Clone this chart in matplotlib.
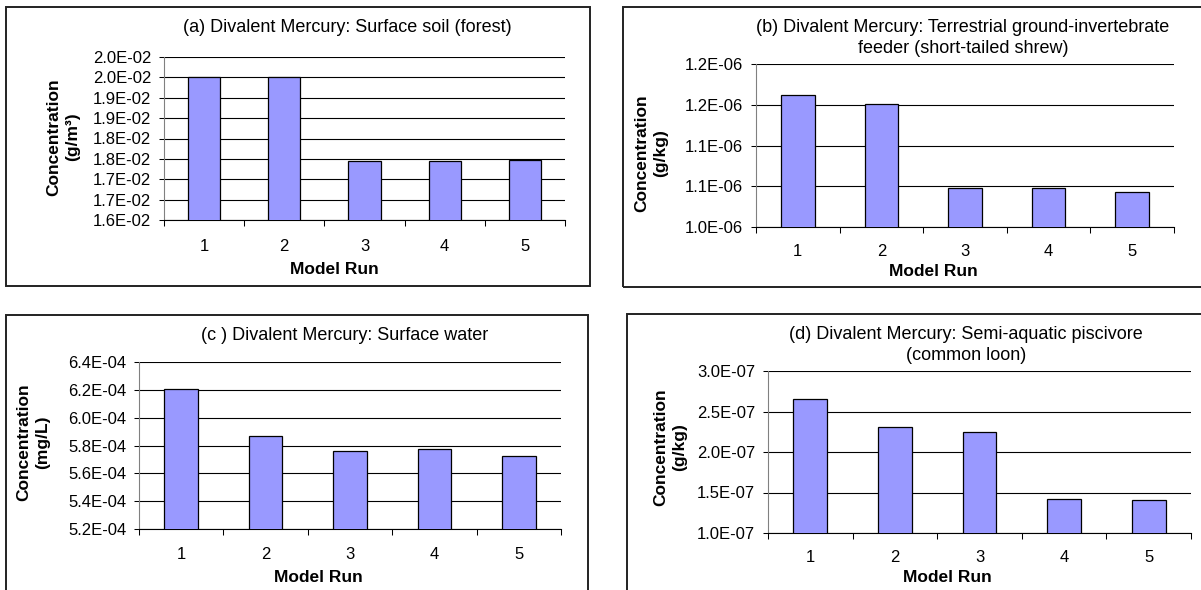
import numpy as np
import matplotlib
matplotlib.use("Agg")
import matplotlib.pyplot as plt
from matplotlib.patches import Rectangle

plt.rcParams['font.family'] = ['Liberation Sans', 'DejaVu Sans']

W, H = 1201, 590

runs = [1, 2, 3, 4, 5]

# (a) surface soil, g/m3
soil = [0.01950, 0.01950, 0.01744, 0.01744, 0.01748]
soil_ticks = [0.0160, 0.0165, 0.0170, 0.0175, 0.0180, 0.0185, 0.0190, 0.0195, 0.0200]
soil_labels = ['1.6E-02', '1.7E-02', '1.7E-02', '1.8E-02', '1.8E-02',
               '1.9E-02', '1.9E-02', '2.0E-02', '2.0E-02']

# (b) short-tailed shrew, g/kg
shrew = [1.1623e-06, 1.1508e-06, 1.0484e-06, 1.0484e-06, 1.0430e-06]
shrew_ticks = [1.00e-06, 1.05e-06, 1.10e-06, 1.15e-06, 1.20e-06]
shrew_labels = ['1.0E-06', '1.1E-06', '1.1E-06', '1.2E-06', '1.2E-06']

# (c) surface water, mg/L
water = [6.205e-04, 5.865e-04, 5.764e-04, 5.778e-04, 5.728e-04]
water_ticks = [5.2e-04, 5.4e-04, 5.6e-04, 5.8e-04, 6.0e-04, 6.2e-04, 6.4e-04]
water_labels = ['5.2E-04', '5.4E-04', '5.6E-04', '5.8E-04', '6.0E-04', '6.2E-04', '6.4E-04']

# (d) common loon, g/kg
loon = [2.656e-07, 2.305e-07, 2.243e-07, 1.417e-07, 1.405e-07]
loon_ticks = [1.0e-07, 1.5e-07, 2.0e-07, 2.5e-07, 3.0e-07]
loon_labels = ['1.0E-07', '1.5E-07', '2.0E-07', '2.5E-07', '3.0E-07']

fig = plt.figure(figsize=(W / 100, H / 100), dpi=100)


def fx(x):
    return x / W


def fy(y):
    return 1 - y / H


def frame(x0, y0, x1, y1):
    fig.add_artist(Rectangle((fx(x0), fy(y1)), fx(x1 - x0), (y1 - y0) / H,
                             transform=fig.transFigure, fill=False,
                             edgecolor='#222222', linewidth=1.4))


def panel(box, vals, ticks, labels, title, title_xy, unit, ylab_xy, xlab_xy, xtick_pad):
    l, t, r, b = box
    ax = fig.add_axes([fx(l), fy(b), fx(r - l), (b - t) / H])
    ax.bar(runs, vals, width=0.4, color='#9999FF', edgecolor='black', linewidth=0.9, zorder=3)
    ax.set_xlim(0.5, 5.5)
    ax.set_ylim(ticks[0], ticks[-1])
    ax.set_yticks(ticks, labels)
    ax.yaxis.grid(True, color='black', linewidth=0.8)
    ax.set_axisbelow(True)
    ax.tick_params(axis='y', direction='out', length=3.6, width=0.75, pad=5.5, labelsize=12)
    ax.set_xticks(np.arange(0.5, 6.0, 1.0), [''] * 6)
    ax.set_xticks(runs, [str(n) for n in runs], minor=True)
    ax.tick_params(axis='x', which='major', direction='out', length=4.3, width=0.75)
    ax.tick_params(axis='x', which='minor', length=0, pad=xtick_pad, labelsize=12)
    for s in ('top', 'right'):
        ax.spines[s].set_visible(False)
    ax.spines['left'].set_color('#808080')
    ax.spines['left'].set_linewidth(0.8)
    ax.spines['bottom'].set_linewidth(0.8)
    fig.text(fx(title_xy[0]), fy(title_xy[1]), title, ha='center', va='center',
             fontsize=13, linespacing=1.3)
    fig.text(fx(ylab_xy[0]), fy(ylab_xy[1]), 'Concentration\n' + unit, rotation=90,
             ha='center', va='center', fontsize=12.5, fontweight='bold', linespacing=1.3)
    fig.text(fx(xlab_xy[0]), fy(xlab_xy[1]), 'Model Run', ha='center', va='center',
             fontsize=12.5, fontweight='bold')
    return ax


# panel outlines (the right and lower ones run off the page)
frame(6, 7, 590, 286)
frame(623, 7, 1230, 287)
frame(6, 315, 588, 620)
frame(627, 314, 1230, 620)

panel((164, 57, 565, 220), soil, soil_ticks, soil_labels,
      '(a) Divalent Mercury: Surface soil (forest)', (347, 27),
      '(g/m³)', (63, 137), (334, 270), 13.5)
panel((756, 64, 1174, 227), shrew, shrew_ticks, shrew_labels,
      '(b) Divalent Mercury: Terrestrial ground-invertebrate\nfeeder (short-tailed shrew)',
      (963, 38), '(g/kg)', (651, 153), (933, 271), 12.2)
panel((139, 362, 561, 529), water, water_ticks, water_labels,
      '(c ) Divalent Mercury: Surface water', (345, 335),
      '(mg/L)', (33, 442), (318, 577), 12.9)
panel((768, 371, 1191, 533), loon, loon_ticks, loon_labels,
      '(d) Divalent Mercury: Semi-aquatic piscivore\n(common loon)', (966, 345),
      '(g/kg)', (670, 447), (947, 577), 12.2)

fig.savefig('out.png', dpi=100)
